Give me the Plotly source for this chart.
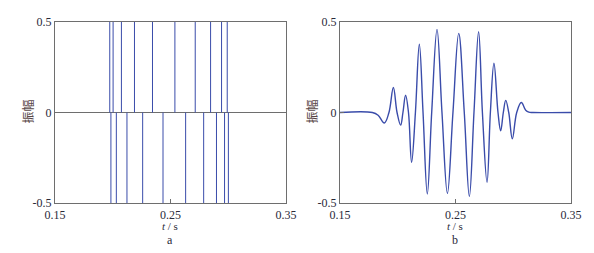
import plotly.graph_objects as go
from plotly.subplots import make_subplots

# Panel a: spike (reflectivity) times
up_times = [0.1974, 0.2003, 0.2075, 0.2188, 0.2344, 0.2538, 0.2714, 0.2847, 0.2942, 0.2991]
up_amp = [0.5] * 10
down_times = [0.1984, 0.2031, 0.2123, 0.2259, 0.2435, 0.2631, 0.2787, 0.2898, 0.2968, 0.3001]
down_amp = [-0.5] * 10

# Panel b: synthetic trace, key points
wave_t = [0.15, 0.178, 0.1830, 0.1884, 0.1924, 0.1962, 0.1994, 0.2025, 0.2045, 0.2068, 0.2093,
          0.2120, 0.2153, 0.2187, 0.2219, 0.2256, 0.2294, 0.2340, 0.2383, 0.2430, 0.2478,
          0.2528, 0.2576, 0.2620, 0.2660, 0.2700, 0.2733, 0.2773, 0.2802, 0.2833, 0.2868,
          0.2891, 0.2914, 0.2935, 0.2961, 0.2992, 0.3030, 0.3070, 0.3108, 0.3135, 0.3170, 0.35]
wave_a = [0, 0, -0.015, -0.058, 0, 0.138, 0, -0.070, 0, 0.095, 0,
          -0.275, 0, 0.377, 0, -0.450, 0, 0.459, 0, -0.447, 0,
          0.437, 0, -0.464, 0, 0.446, 0, -0.386, 0, 0.272, 0,
          -0.101, 0, 0.067, 0, -0.145, 0, 0.055, 0.012, 0.002, 0, 0]

x_ticks = [0.15, 0.25, 0.35]
y_ticks = [-0.5, 0, 0.5]
y_label = "振幅"
x_label = "<i>t</i> / s"
panel_labels = ["a", "b"]

LINE = "#3a4caa"
FRAME = "#6e6e6e"
TXT = "#2a2a3a"

fig = make_subplots(rows=1, cols=2, horizontal_spacing=0.1046)

sx, sy = [], []
for t, a in zip(up_times, up_amp):
    sx += [t, t, None]
    sy += [0, a, None]
for t, a in zip(down_times, down_amp):
    sx += [t, t, None]
    sy += [0, a, None]
fig.add_trace(go.Scatter(x=sx, y=sy, mode="lines", line=dict(color=LINE, width=1),
                         showlegend=False, hoverinfo="skip"), row=1, col=1)

fig.add_trace(go.Scatter(x=wave_t, y=wave_a, mode="lines",
                         line=dict(color=LINE, width=1.4, shape="spline", smoothing=1.1),
                         showlegend=False), row=1, col=2)

for i, dom in ((1, [0, 0.4477]), (2, [0.5523, 1])):
    fig.update_xaxes(domain=dom, range=[0.15, 0.35], tickvals=x_ticks,
                     ticktext=[f"{v:.2f}" for v in x_ticks],
                     ticks="inside", ticklen=4, tickcolor=FRAME,
                     showline=True, linecolor=FRAME, linewidth=1.2, mirror=True,
                     showgrid=False, zeroline=False,
                     tickfont=dict(family="Liberation Serif", size=12, color=TXT),
                     row=1, col=i)
    fig.update_yaxes(range=[-0.5, 0.5], tickvals=y_ticks,
                     ticktext=["-0.5", "0", "0.5"],
                     ticks="inside", ticklen=4, tickcolor=FRAME,
                     showline=True, linecolor=FRAME, linewidth=1.2, mirror=True,
                     showgrid=False, zeroline=(i == 1), zerolinecolor=FRAME, zerolinewidth=1,
                     tickfont=dict(family="Liberation Serif", size=12, color=TXT),
                     row=1, col=i)

ann = []
for cx, yx, lab in ((0.2238, -0.0523, panel_labels[0]), (0.776, 0.498, panel_labels[1])):
    ann.append(dict(x=cx, y=-0.128, xref="paper", yref="paper", text=x_label,
                    showarrow=False, xanchor="center", yanchor="middle",
                    font=dict(family="Liberation Serif", size=11, color=TXT)))
    ann.append(dict(x=cx, y=-0.206, xref="paper", yref="paper", text=lab,
                    showarrow=False, xanchor="center", yanchor="middle",
                    font=dict(family="Liberation Serif", size=12, color=TXT)))
    ann.append(dict(x=yx, y=0.505, xref="paper", yref="paper", text=y_label,
                    showarrow=False, xanchor="center", yanchor="middle", textangle=-90,
                    font=dict(family="Noto Sans CJK SC", size=12, color="#5a4848")))

# page body has an 8px margin; offset margins to place the plot areas like the reference
fig.update_layout(width=594, height=253, margin=dict(l=47, r=31, t=7, b=58),
                  paper_bgcolor="white", plot_bgcolor="white", annotations=ann)

fig.write_html("out.html")
